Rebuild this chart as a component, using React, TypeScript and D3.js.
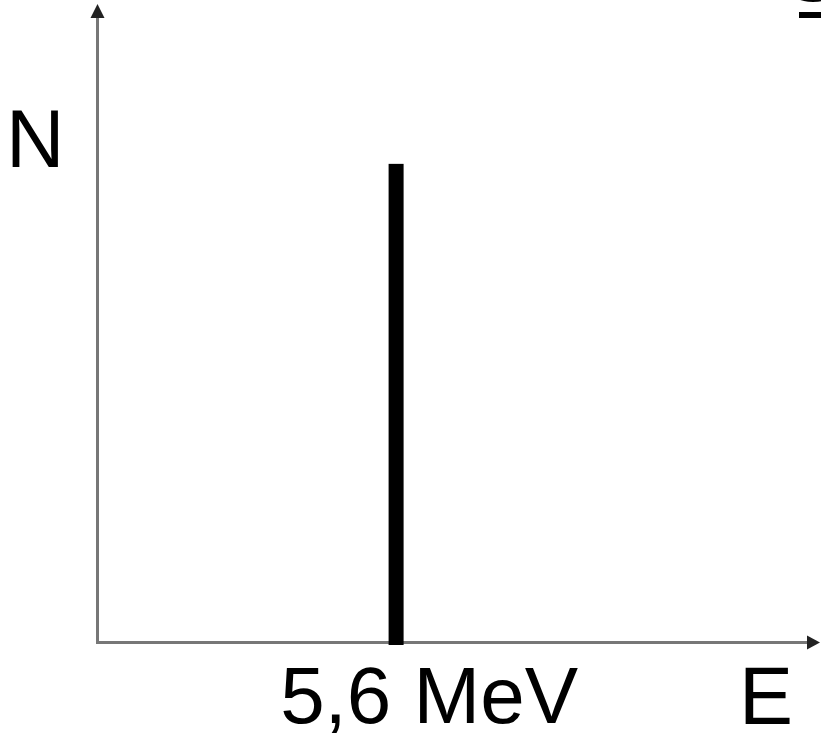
import React, {useRef, useEffect} from 'react';
import * as d3 from 'd3';

// spectrum data: a single line at 5.6 MeV
const energies = [5.6];
const counts = [1];
const lineLabels = ['5,6 MeV'];
const axisLabels = {x: 'E', y: 'N'};

const App = () => {
    const svgRef = useRef<SVGSVGElement>(null);
    const width = 821;
    const height = 733;

    useEffect(() => {
        const svg = d3.select(svgRef.current);
        svg.selectAll('*').remove();

        const origin = {x: 97.5, y: 642.5};

        const xScale = d3.scaleLinear()
            .domain([0, 13.55])
            .range([origin.x, 820]);

        const yScale = d3.scaleLinear()
            .domain([0, 1.334])
            .range([origin.y, 4]);

        const font = '"Liberation Sans", Arial, sans-serif';

        // axes
        svg.append('line')
            .attr('x1', origin.x).attr('y1', origin.y + 1.5)
            .attr('x2', origin.x).attr('y2', yScale(1.334) + 8)
            .attr('stroke', '#777').attr('stroke-width', 3);

        svg.append('line')
            .attr('x1', origin.x - 1.5).attr('y1', origin.y)
            .attr('x2', xScale(13.55) - 8).attr('y2', origin.y)
            .attr('stroke', '#777').attr('stroke-width', 3);

        // arrow heads
        const yTop = yScale(1.334);
        svg.append('path')
            .attr('d', `M${origin.x},${yTop} L${origin.x + 7},${yTop + 14} L${origin.x - 7},${yTop + 14} Z`)
            .attr('fill', '#222');

        const xEnd = xScale(13.55);
        svg.append('path')
            .attr('d', `M${xEnd},${origin.y} L${xEnd - 13},${origin.y + 7} L${xEnd - 13},${origin.y - 7} Z`)
            .attr('fill', '#222');

        // spectral lines
        svg.selectAll('rect.line')
            .data(energies)
            .enter()
            .append('rect')
            .attr('class', 'line')
            .attr('x', d => xScale(d) - 7.5)
            .attr('width', 15)
            .attr('y', (d, i) => yScale(counts[i]))
            .attr('height', (d, i) => origin.y + 2.5 - yScale(counts[i]))
            .attr('fill', '#000');

        svg.selectAll('text.energy')
            .data(energies)
            .enter()
            .append('text')
            .attr('class', 'energy')
            .attr('x', d => xScale(d) + 33)
            .attr('y', 723)
            .attr('text-anchor', 'middle')
            .attr('font-family', font)
            .attr('font-size', 80)
            .attr('fill', '#000')
            .text((d, i) => lineLabels[i]);

        // axis labels
        svg.append('text')
            .attr('x', 6).attr('y', 167)
            .attr('font-family', font).attr('font-size', 81)
            .attr('fill', '#000')
            .text(axisLabels.y);

        svg.append('text')
            .attr('x', 739).attr('y', 724)
            .attr('font-family', font).attr('font-size', 81)
            .attr('fill', '#000')
            .text(axisLabels.x);

        // underlined title, cut off by the top-right corner
        svg.append('text')
            .attr('x', 786).attr('y', 1)
            .attr('font-family', font).attr('font-size', 80)
            .attr('fill', '#000')
            .text('S');

        svg.append('rect')
            .attr('x', 799).attr('y', 12)
            .attr('width', 22).attr('height', 6)
            .attr('fill', '#000');
    }, []);

    return (
        <svg ref={svgRef} width={width} height={height}
             style={{position: 'absolute', left: 0, top: 0, background: '#fff'}}/>
    );
};

export default App;
